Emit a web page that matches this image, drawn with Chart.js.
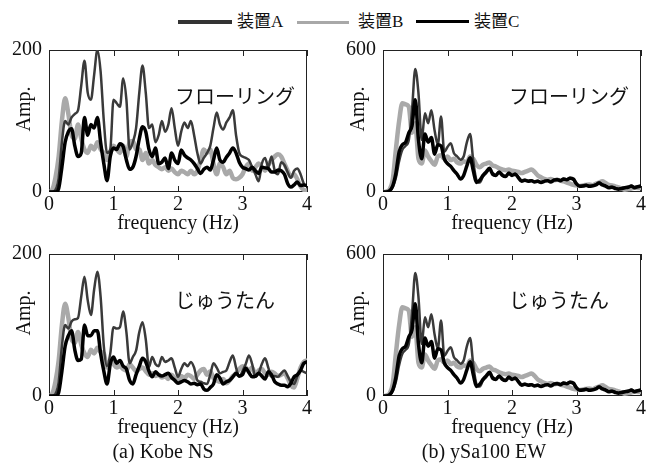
<!DOCTYPE html>
<html>
<head>
<meta charset="utf-8">
<script src="https://cdn.jsdelivr.net/npm/chart.js@4"></script>
<style>
  body { margin: 0; background: #fff; }
  #wrap { position: relative; width: 656px; height: 468px; overflow: hidden; font-family: "Liberation Serif", "Noto Sans CJK JP", serif; }
  canvas { position: absolute; }
  .key { position: absolute; height: 3px; }
  .keytext { position: absolute; top: 12px; font-size: 17px; line-height: 20px; color: #111; }
  .cap { position: absolute; top: 439px; width: 240px; text-align: center; font-size: 20px; line-height: 24px; color: #111; }
</style>
</head>
<body>
<div id="wrap">
  <div class="key" style="left:178px; top:20px; width:54px; height:4px; background:#333;"></div>
  <div class="keytext" style="left:237px;">装置A</div>
  <div class="key" style="left:297px; top:21px; width:52px; background:#a8a8a8;"></div>
  <div class="keytext" style="left:358px;">装置B</div>
  <div class="key" style="left:416px; top:20px; width:53px; background:#000;"></div>
  <div class="keytext" style="left:474px;">装置C</div>

  <canvas id="kobeFloor" width="328" height="206" style="left:0; top:30px;"></canvas>
  <canvas id="ysaFloor" width="328" height="206" style="left:328px; top:30px;"></canvas>
  <canvas id="kobeCarpet" width="328" height="206" style="left:0; top:234px;"></canvas>
  <canvas id="ysaCarpet" width="328" height="206" style="left:328px; top:234px;"></canvas>

  <div class="cap" style="left:43px;">(a) Kobe NS</div>
  <div class="cap" style="left:364px;">(b) ySa100 EW</div>
</div>
<script>
// 周波数 (Hz)
const freq = [
  0, 0.05, 0.1, 0.15, 0.2, 0.25, 0.3, 0.35, 0.4, 0.45,
  0.5, 0.55, 0.6, 0.65, 0.7, 0.75, 0.8, 0.85, 0.9, 0.95,
  1, 1.05, 1.1, 1.15, 1.2, 1.25, 1.3, 1.35, 1.4, 1.45,
  1.5, 1.55, 1.6, 1.65, 1.7, 1.75, 1.8, 1.85, 1.9, 1.95,
  2, 2.05, 2.1, 2.15, 2.2, 2.25, 2.3, 2.35, 2.4, 2.45,
  2.5, 2.55, 2.6, 2.65, 2.7, 2.75, 2.8, 2.85, 2.9, 2.95,
  3, 3.05, 3.1, 3.15, 3.2, 3.25, 3.3, 3.35, 3.4, 3.45,
  3.5, 3.55, 3.6, 3.65, 3.7, 3.75, 3.8, 3.85, 3.9, 3.95,
  4
];
const seriesNames = ["装置A", "装置B", "装置C"];
const xTicks = [0, 1, 2, 3, 4];

// Kobe NS フローリング
const kobeFloorA = [
  0, 0, 3, 20, 70, 100, 95, 105, 110, 115,
  150, 185, 140, 130, 165, 200, 170, 100, 55, 60,
  130, 125, 120, 160, 130, 60, 70, 90, 140, 178,
  140, 90, 95, 70, 80, 100, 85, 95, 118, 90,
  65, 85, 98, 90, 100, 80, 55, 40, 48, 55,
  65, 90, 112, 95, 88, 98, 105, 115, 80, 55,
  50, 48, 45, 35, 25, 15, 40, 48, 35, 50,
  30, 25, 42, 38, 28, 20, 30, 33, 25, 12,
  8
];
const kobeFloorB = [
  0, 3, 20, 50, 100, 132, 110, 80, 75, 95,
  75, 60, 55, 65, 60, 70, 60, 55, 45, 55,
  65, 60, 55, 65, 50, 70, 72, 60, 60, 45,
  55, 40, 45, 38, 35, 32, 35, 30, 33, 28,
  25, 30, 28, 25, 30, 25, 30, 45, 60, 55,
  60, 40, 25, 40, 35, 25, 30, 20, 18, 20,
  25, 35, 40, 30, 35, 40, 35, 30, 38, 45,
  50, 53, 50, 40, 30, 22, 25, 18, 8, 3,
  2
];
const kobeFloorC = [
  0, 0, 0, 5, 35, 70, 85, 89, 65, 50,
  55, 105, 80, 95, 90, 105, 70, 40, 16, 50,
  62, 60, 68, 64, 45, 32, 35, 50, 75, 92,
  85, 60, 50, 62, 40, 42, 48, 33, 55, 45,
  40, 59, 52, 48, 45, 40, 33, 26, 32, 35,
  31, 45, 62, 45, 42, 49, 55, 62, 55, 42,
  35, 33, 31, 35, 30, 26, 35, 34, 33, 28,
  28, 31, 30, 25, 12, 7, 10, 14, 9, 10,
  9
];

// Kobe NS じゅうたん
const kobeCarpetA = [
  0, 0, 3, 20, 70, 100, 95, 105, 108, 110,
  140, 168, 135, 114, 150, 175, 140, 70, 42, 60,
  97, 95, 97, 119, 90, 46, 55, 64, 90, 104,
  80, 41, 55, 45, 42, 55, 48, 50, 53, 40,
  27, 38, 46, 42, 48, 40, 22, 20, 18, 17,
  30, 46, 40, 32, 34, 36, 48, 57, 40, 27,
  35, 45, 57, 45, 27, 32, 45, 53, 40, 27,
  28, 27, 32, 36, 28, 20, 17, 28, 36, 34,
  32
];
const kobeCarpetB = [
  0, 3, 20, 50, 100, 130, 110, 80, 75, 90,
  72, 60, 55, 65, 60, 68, 62, 60, 40, 50,
  45, 40, 42, 38, 36, 45, 40, 35, 38, 40,
  35, 30, 32, 28, 30, 26, 28, 24, 30, 25,
  22, 28, 25, 30, 28, 24, 30, 36, 38, 30,
  35, 25, 22, 20, 24, 18, 22, 28, 32, 38,
  42, 40, 36, 40, 30, 36, 38, 32, 30, 34,
  32, 28, 30, 32, 25, 15, 12, 25, 40, 48,
  50
];
const kobeCarpetC = [
  0, 0, 0, 5, 35, 70, 85, 92, 65, 50,
  52, 100, 85, 85, 92, 92, 60, 35, 17, 45,
  55, 46, 50, 42, 38, 22, 17, 30, 42, 53,
  48, 35, 27, 34, 30, 28, 30, 32, 26, 22,
  18, 20, 22, 20, 17, 18, 16, 17, 10, 8,
  12, 17, 30, 25, 17, 20, 22, 27, 32, 28,
  30, 39, 33, 27, 28, 32, 28, 24, 34, 30,
  20, 17, 15, 15, 13, 18, 27, 30, 36, 46,
  48
];

// ySa100 EW (フローリング・じゅうたん ほぼ同じ)
const ysaA = [
  0, 0, 5, 20, 60, 130, 178, 195, 220, 347,
  520, 417, 220, 333, 291, 345, 260, 200, 319, 170,
  190, 206, 164, 150, 136, 150, 210, 245, 130, 50,
  40, 65, 80, 95, 80, 72, 85, 75, 68, 78,
  72, 78, 62, 50, 52, 48, 50, 45, 48, 42,
  46, 50, 45, 52, 55, 50, 56, 54, 60, 52,
  32, 26, 28, 30, 26, 28, 32, 40, 32, 26,
  20, 22, 17, 14, 16, 20, 22, 26, 20, 24,
  26
];
const ysaB = [
  0, 2, 10, 50, 180, 300, 375, 370, 360, 250,
  290, 140, 120, 175, 150, 130, 115, 150, 155, 140,
  150, 135, 140, 125, 120, 130, 125, 150, 140, 115,
  105, 115, 120, 125, 112, 108, 100, 95, 92, 95,
  90, 88, 85, 80, 85, 90, 95, 85, 70, 62,
  55, 52, 55, 50, 52, 48, 45, 40, 35, 30,
  28, 25, 28, 30, 32, 28, 35, 40, 45, 38,
  30, 28, 24, 20, 15, 10, 12, 15, 18, 17,
  17
];
const ysaC = [
  0, 0, 5, 25, 80, 170, 200, 210, 250, 280,
  390, 220, 140, 245, 210, 230, 160, 200, 195, 140,
  120, 108, 90, 75, 55, 70, 110, 145, 90, 40,
  50, 70, 85, 100, 75, 70, 85, 70, 65, 80,
  70, 75, 60, 45, 50, 45, 48, 42, 45, 40,
  45, 48, 42, 50, 52, 48, 55, 52, 58, 55,
  35, 24, 25, 28, 24, 26, 30, 38, 30, 25,
  18, 20, 15, 12, 15, 18, 20, 25, 18, 22,
  25
];

const serif = "'Liberation Serif', 'Times New Roman', serif";

// 枠・内向き目盛・ラベル
const framePlugin = {
  id: "frame",
  beforeDatasetsDraw(chart, args, opts) {
    const { ctx, chartArea: a, scales } = chart;
    ctx.save();
    ctx.strokeStyle = "#222";
    ctx.lineWidth = 1;
    ctx.strokeRect(a.left + 0.5, a.top + 0.5, a.width - 1, a.height - 1);
    ctx.beginPath();
    xTicks.forEach((v) => {
      const px = Math.round(scales.x.getPixelForValue(v)) + 0.5;
      ctx.moveTo(px, a.top);
      ctx.lineTo(px, a.top + 6);
      ctx.moveTo(px, a.bottom);
      ctx.lineTo(px, a.bottom - 6);
    });
    ctx.stroke();
    ctx.restore();
  },
  afterDatasetsDraw(chart, args, opts) {
    const { ctx, chartArea: a } = chart;
    ctx.save();
    ctx.fillStyle = "#111";
    ctx.font = "20px 'Noto Sans CJK JP', sans-serif";
    ctx.textAlign = "left";
    ctx.textBaseline = "middle";
    ctx.fillText(opts.label, a.left + 126, a.top + 46);
    ctx.font = "20px " + serif;
    ctx.translate(a.left - 24, (a.top + a.bottom) / 2 - 12);
    ctx.rotate(-Math.PI / 2);
    ctx.textAlign = "center";
    ctx.fillText("Amp.", 0, 0);
    ctx.restore();
  },
};

const makeChart = (id, label, yMax, axisWidth, padRight, a, b, c) => {
  const toPoints = (vals) => freq.map((f, i) => ({ x: f, y: vals[i] }));
  new Chart(document.getElementById(id), {
    type: "line",
    data: {
      datasets: [
        { label: seriesNames[0], data: toPoints(a), borderColor: "#3a3a3a", borderWidth: 2.5, order: 1 },
        { label: seriesNames[1], data: toPoints(b), borderColor: "#a9a9a9", borderWidth: 4.5, order: 2 },
        { label: seriesNames[2], data: toPoints(c), borderColor: "#000000", borderWidth: 3.5, order: 0 },
      ],
    },
    options: {
      responsive: false,
      animation: false,
      layout: { padding: { top: 20, right: padRight, left: 0, bottom: 0 } },
      elements: {
        point: { radius: 0 },
        line: { cubicInterpolationMode: "monotone", borderJoinStyle: "round", borderCapStyle: "round" },
      },
      plugins: {
        legend: { display: false },
        tooltip: { enabled: false },
        frame: { label: label },
      },
      scales: {
        x: {
          type: "linear",
          min: 0,
          max: 4,
          grid: { display: false, drawTicks: false },
          border: { display: false },
          ticks: { stepSize: 1, padding: 1, color: "#111", font: { family: serif, size: 20 }, maxRotation: 0 },
          title: { display: true, text: "frequency (Hz)", color: "#111", font: { family: serif, size: 20 }, padding: 0 },
          afterFit: (scale) => { scale.height = 44; },
        },
        y: {
          min: 0,
          max: yMax,
          grid: { display: false, drawTicks: false },
          border: { display: false },
          ticks: { stepSize: yMax, padding: 7, color: "#111", font: { family: serif, size: 20 } },
          afterFit: (scale) => { scale.width = axisWidth; },
        },
      },
    },
    plugins: [framePlugin],
  });
};

makeChart("kobeFloor", "フローリング", 200, 49, 21, kobeFloorA, kobeFloorB, kobeFloorC);
makeChart("ysaFloor", "フローリング", 600, 55, 15, ysaA, ysaB, ysaC);
makeChart("kobeCarpet", "じゅうたん", 200, 49, 21, kobeCarpetA, kobeCarpetB, kobeCarpetC);
makeChart("ysaCarpet", "じゅうたん", 600, 55, 15, ysaA, ysaB, ysaC);
</script>
</body>
</html>
